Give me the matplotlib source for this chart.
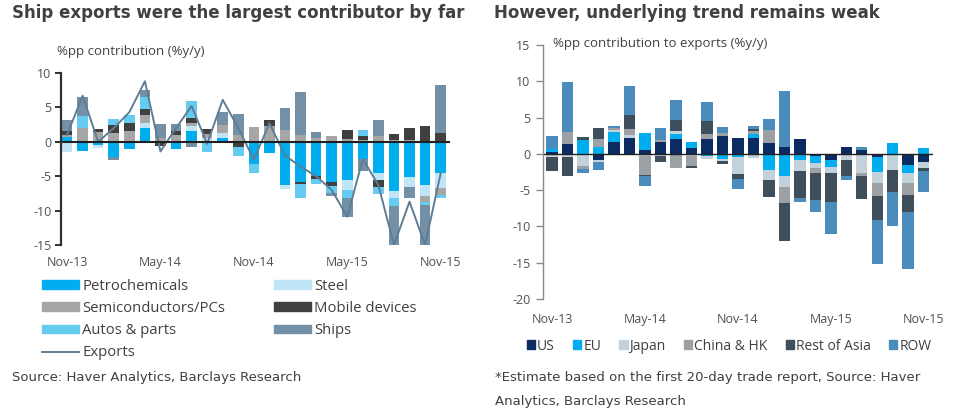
import matplotlib
matplotlib.use("Agg")
import matplotlib.pyplot as plt
import numpy as np
from matplotlib.patches import Patch
from matplotlib.lines import Line2D

plt.rcParams['axes.unicode_minus'] = False

# months Nov-13 .. Nov-15
months = ["Nov-13", "Dec-13", "Jan-14", "Feb-14", "Mar-14", "Apr-14", "May-14", "Jun-14",
          "Jul-14", "Aug-14", "Sep-14", "Oct-14", "Nov-14", "Dec-14", "Jan-15", "Feb-15",
          "Mar-15", "Apr-15", "May-15", "Jun-15", "Jul-15", "Aug-15", "Sep-15", "Oct-15", "Nov-15"]

# left chart: contribution by product
petro = [0.7, -1.4, -0.5, -2.2, -1.1, 2.0, 0, -1.0, 1.5, 0, 0.5, 0, -3.2, -1.7, -6.3, -5.8,
         -5.0, -5.9, -5.6, -2.5, -4.6, -7.1, -5.1, -6.3, -4.6]
steel = [-1.5, 0, -0.4, 0, 0, 0.8, 0, 0, 0.8, 0.6, 0.8, 0, 0, 0, -0.6, 0,
         0, 0, -1.4, 0, -0.9, -1.1, -1.5, -1.6, -2.1]
semi = [0.3, 2.0, 1.4, 1.3, 1.5, 1.1, 0.6, 1.0, 0.5, 0.6, 1.1, 1.0, 2.2, 2.3, 1.7, 1.0,
        0.6, 0.9, 0.4, 0.3, 0.8, 0.3, 0.3, -0.8, -1.0]
mobile = [0.5, 0, 0.5, 1.2, 1.2, 0.8, -0.6, 0.6, 0.7, 0.6, -0.2, -0.8, 0, 0.9, 0, -0.4,
          -0.4, -0.5, 1.3, 0.6, -1.0, 0.8, 1.7, 2.3, 1.3]
autos = [0, 1.8, 0, 0.8, 1.2, 1.8, 0, 0, 2.4, -1.5, 0, -1.2, -1.4, 0, 0, -1.9,
         -0.7, -1.0, -1.2, 0.8, -1.1, -1.1, 0, -0.5, -0.4]
ships = [1.7, 2.7, 0, -0.5, 0, 1.1, 2.0, 1.0, -0.8, 0, 1.9, 3.0, 0, 0, 3.2, 6.3,
         0.8, -0.5, -2.7, -1.8, 2.3, -5.7, -1.5, -5.8, 7.0]
exports = [1.0, 6.7, 0.0, 2.0, 4.3, 8.8, -1.4, 2.0, 5.2, -0.3, 6.1, 2.0, -2.6, 2.7, -2.0, -3.6,
           -5.0, -7.0, -10.9, -2.5, -6.3, -15.0, -8.7, -15.0, -4.6]

# right chart: contribution by destination
us = [0.3, 1.4, 0, -0.8, 1.7, 2.2, 0.6, 1.7, 2.1, 0.8, 2.1, 2.5, 2.2, 2.2, 1.5, 1.0,
      2.0, -0.3, -0.8, 1.0, 0.5, -0.5, 0, -1.5, -1.1]
eu = [0.4, 0, 1.9, 1.0, 1.3, -0.2, 2.3, 0, 0.7, 0.8, -0.3, -0.7, -0.4, 0.6, -2.2, -3.1,
      -0.9, -1.0, -1.0, -0.2, 0, -2.0, 1.5, -1.1, 0.8]
japan = [-0.5, -0.4, -1.7, -0.3, 0.3, 0.4, -0.3, -0.3, 0.3, -0.3, -0.4, -0.3, -2.4, -0.6, -1.4, -1.4,
         -1.4, -0.7, -0.9, -0.6, -2.6, -1.5, -2.2, -1.4, -0.9]
china = [0, 1.6, -0.4, 1.0, 0.3, 0.8, -2.6, 0.2, -2.0, -1.4, 0.7, 0.4, 0, 0.3, 1.8, -2.3,
         0, -0.6, 0, 0, -0.5, -1.8, 0, -1.7, 0]
rest_asia = [-1.9, -2.6, 0.4, 1.6, 0, 1.9, -0.2, -0.8, 1.5, -0.3, 1.7, -0.4, -0.6, 0.3, -2.3, -5.2,
             -3.8, -3.7, -4.0, -2.2, -3.1, -3.3, -3.1, -2.3, -0.3]
row = [1.8, 6.9, -0.5, -1.1, 0.3, 4.0, -1.3, 1.7, 2.8, 0, 2.7, 0.8, -1.5, 0.4, 1.5, 7.6,
       -0.6, -1.7, -4.3, -0.6, 0.5, -6.1, -4.6, -7.9, -3.0]

left_names = ["Petrochemicals", "Steel", "Semiconductors/PCs", "Mobile devices", "Autos & parts", "Ships"]
left_cols = ["#00AEEF", "#BFE5F7", "#A6A6A6", "#404040", "#66CBF1", "#7390A6"]
right_names = ["US", "EU", "Japan", "China & HK", "Rest of Asia", "ROW"]
right_cols = ["#0B2B61", "#00AEEF", "#C3D2DA", "#9CA1A6", "#3E4E5A", "#4A8DBC"]

txt = "#404040"
tick_font = "Open Sans"


def stack(ax, x, series, colors, width):
    pos = np.zeros(len(x))
    neg = np.zeros(len(x))
    for vals, c in zip(series, colors):
        v = np.array(vals, dtype=float)
        base = np.where(v >= 0, pos, neg)
        ax.bar(x, v, width, bottom=base, color=c, linewidth=0)
        pos += np.clip(v, 0, None)
        neg += np.clip(v, None, 0)


fig = plt.figure(figsize=(9.6, 4.18), dpi=100)
x = np.arange(len(months))
tick_idx = x[::6]

# ---- left panel
ax1 = fig.add_axes([61 / 960, 1 - 245 / 418, 389 / 960, 172 / 418])
stack(ax1, x, [petro, steel, semi, mobile, autos, ships], left_cols, 0.68)
ax1.plot(x, exports, color="#5E7D94", lw=1.4)
ax1.axhline(0, color="#202020", lw=1.5)
ax1.set_xlim(-0.39, 24.6)
ax1.set_ylim(-15, 10)
ax1.set_yticks([-15, -10, -5, 0, 5, 10])
for s in ["top", "right", "bottom"]:
    ax1.spines[s].set_visible(False)
ax1.spines["left"].set_color("#303030")
ax1.spines["left"].set_linewidth(1.6)
ax1.tick_params(axis="y", direction="out", length=4, width=1.4, color="#303030",
                labelsize=9, labelcolor="#505050", pad=3)
ax1.set_xticks(tick_idx)
ax1.set_xticklabels([months[i] for i in tick_idx])
ax1.tick_params(axis="x", length=0, labelsize=9, labelcolor="#505050", pad=8)
for lab in ax1.get_xticklabels() + ax1.get_yticklabels():
    lab.set_family(tick_font)

fig.text(12 / 960, 1 - 13 / 418, "Ship exports were the largest contributor by far",
         fontsize=12, fontweight="bold", color=txt, va="center", family="DejaVu Sans")
fig.text(57 / 960, 1 - 52 / 418, "%pp contribution (%y/y)", fontsize=9.5, color=txt,
         va="center", family=tick_font)

h = [Patch(color=c) for c in left_cols]
line_h = Line2D([0], [0], color="#5E7D94", lw=1.4)
handles = [h[0], h[2], h[4], line_h, h[1], h[3], h[5]]
labels = [left_names[0], left_names[2], left_names[4], "Exports",
          left_names[1], left_names[3], left_names[5]]
fig.legend(handles, labels, ncol=2, loc="upper left", bbox_to_anchor=(42 / 960, 1 - 279 / 418),
           frameon=False, handlelength=2.5, handleheight=0.55, handletextpad=0.2,
           columnspacing=3.3, labelspacing=0.48, borderpad=0, borderaxespad=0,
           prop={"family": tick_font, "size": 10.7}, labelcolor=txt)

fig.text(12 / 960, 1 - 377 / 418, "Source: Haver Analytics, Barclays Research",
         fontsize=9.5, color=txt, va="center", family="DejaVu Sans")

# ---- right panel
ax2 = fig.add_axes([543 / 960, 1 - 299 / 418, 390 / 960, 254 / 418])
stack(ax2, x, [us, eu, japan, china, rest_asia, row], right_cols, 0.74)
ax2.axhline(0, color="#202020", lw=1.0)
ax2.set_xlim(-0.58, 24.6)
ax2.set_ylim(-20, 15)
ax2.set_yticks(np.arange(-20, 16, 5))
for s in ["top", "right", "bottom"]:
    ax2.spines[s].set_visible(False)
ax2.spines["left"].set_color("#8A8A8A")
ax2.spines["left"].set_linewidth(1.0)
ax2.tick_params(axis="y", direction="out", length=5, width=1.0, color="#8A8A8A",
                labelsize=9, labelcolor="#505050", pad=4)
ax2.set_xticks(tick_idx)
ax2.set_xticklabels([months[i] for i in tick_idx])
ax2.tick_params(axis="x", length=0, labelsize=9, labelcolor="#505050", pad=10)
for lab in ax2.get_xticklabels() + ax2.get_yticklabels():
    lab.set_family(tick_font)

fig.text(494 / 960, 1 - 13 / 418, "However, underlying trend remains weak",
         fontsize=12, fontweight="bold", color=txt, va="center", family="DejaVu Sans")
fig.text(553 / 960, 1 - 44 / 418, "%pp contribution to exports (%y/y)", fontsize=9.5,
         color=txt, va="center", family=tick_font)

rh = [Patch(color=c) for c in right_cols]
fig.legend(rh, right_names, ncol=6, loc="center", bbox_to_anchor=(729 / 960, 1 - 346 / 418),
           frameon=False, handlelength=0.6, handleheight=0.6, handletextpad=0.15,
           columnspacing=1.3, borderpad=0, prop={"family": tick_font, "size": 10}, labelcolor=txt)

fig.text(495 / 960, 1 - 378 / 418, "*Estimate based on the first 20-day trade report, Source: Haver",
         fontsize=9.5, color=txt, va="center", family="DejaVu Sans")
fig.text(495 / 960, 1 - 401 / 418, "Analytics, Barclays Research",
         fontsize=9.5, color=txt, va="center", family="DejaVu Sans")

fig.savefig("out.png", dpi=100)
